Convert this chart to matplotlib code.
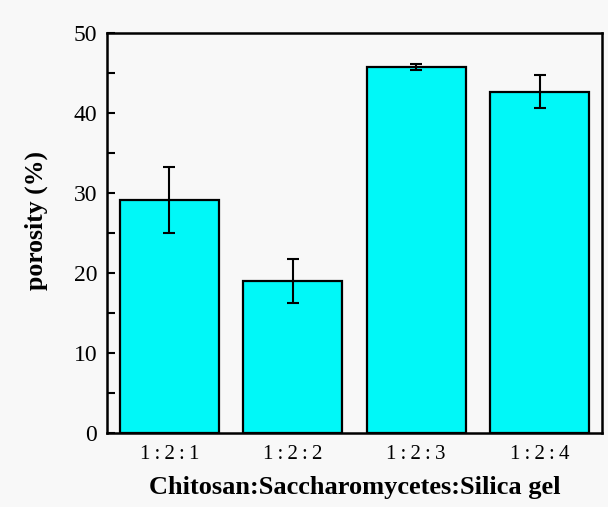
import matplotlib
matplotlib.use("Agg")
import matplotlib.pyplot as plt
from matplotlib.ticker import MultipleLocator

T = "\u2009"
categories = [f"1{T}:{T}2{T}:{T}1", f"1{T}:{T}2{T}:{T}2", f"1{T}:{T}2{T}:{T}3", f"1{T}:{T}2{T}:{T}4"]
porosity = [29.1, 19.0, 45.75, 42.65]
errors = [4.1, 2.75, 0.35, 2.05]

fig = plt.figure(figsize=(6.08, 5.07), dpi=100, facecolor="#f8f8f8")
ax = fig.add_axes([0.176, 0.146, 0.814, 0.789])
ax.set_facecolor("#f8f8f8")

x = list(range(len(categories)))
ax.bar(x, porosity, width=0.8, color="#00f8f8", edgecolor="black", linewidth=1.6,
       yerr=errors, capsize=4.5, error_kw=dict(elinewidth=1.5, capthick=1.5, ecolor="black"),
       zorder=2)

ax.set_xlim(-0.505, 3.505)
ax.set_ylim(0, 50)
ax.set_xticks(x)
ax.set_xticklabels(categories, fontfamily="Liberation Serif", fontsize=15)
ax.yaxis.set_major_locator(MultipleLocator(10))
ax.yaxis.set_minor_locator(MultipleLocator(5))
for lbl in ax.get_yticklabels():
    lbl.set_fontfamily("Liberation Serif")
    lbl.set_fontsize(17)
ax.tick_params(axis="both", which="both", direction="in", length=6, width=1.5,
               top=False, right=False)
ax.tick_params(axis="x", pad=9)
ax.tick_params(axis="y", pad=7)
for s in ax.spines.values():
    s.set_linewidth(1.8)

ax.set_xlabel("Chitosan:Saccharomycetes:Silica gel", fontfamily="Liberation Serif",
              fontweight="bold", fontsize=19, labelpad=8)
ax.set_ylabel("porosity (%)", fontfamily="Liberation Serif", fontweight="bold",
              fontsize=18.5)
ax.yaxis.set_label_coords(-0.12, 0.532)

fig.savefig("out.png", dpi=100, facecolor=fig.get_facecolor())
